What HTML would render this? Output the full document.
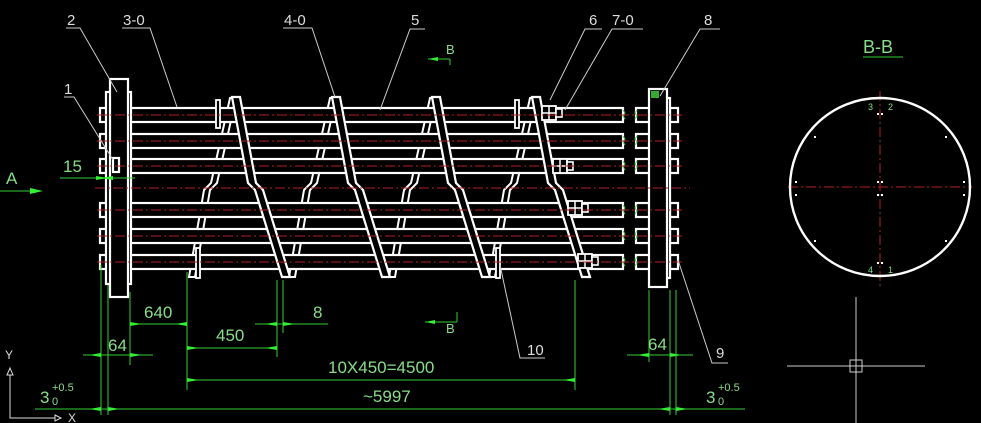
<!DOCTYPE html>
<html><head><meta charset="utf-8"><style>
html,body{margin:0;padding:0;background:#000;}
svg{display:block;}
text{font-family:"Liberation Sans",sans-serif;}
</style></head><body>
<svg width="981" height="423" viewBox="0 0 981 423" xmlns="http://www.w3.org/2000/svg">
<rect width="981" height="423" fill="#000"/>
<defs>
<g id="back">
<polygon points="230,98 236,98 217,183 210,190 195,277 189,277 204,190 211,183" fill="none" stroke="#fff" stroke-width="2"/>
</g>
<g id="front">
<polygon points="232,97 240,97 256,183 263,190 290,277 282,277 255,190 248,183" fill="#000" stroke="#fff" stroke-width="2.2"/>
</g>
<g id="nut">
<rect x="-10" y="-7" width="14" height="14" fill="#000" stroke="#fff" stroke-width="1.8"/>
<line x1="-3" y1="-7" x2="-3" y2="7" stroke="#fff" stroke-width="1.5"/>
<line x1="-10" y1="0" x2="4" y2="0" stroke="#fff" stroke-width="1.5"/>
<rect x="4" y="-4" width="6" height="8" fill="#000" stroke="#fff" stroke-width="1.6"/>
</g>
</defs>

<use href="#back"/>
<use href="#back" x="100"/>
<use href="#back" x="200"/>
<use href="#back" x="300"/>

<g fill="#000" stroke="#fff" stroke-width="2.2">
<rect x="130" y="108" width="493" height="14"/>
<rect x="130" y="134" width="493" height="14"/>
<rect x="130" y="159" width="493" height="14"/>
<rect x="130" y="203" width="493" height="14"/>
<rect x="130" y="229" width="493" height="14"/>
<rect x="130" y="255" width="493" height="14"/>
<rect x="636" y="108" width="14" height="14"/>
<rect x="636" y="134" width="14" height="14"/>
<rect x="636" y="159" width="14" height="14"/>
<rect x="636" y="203" width="14" height="14"/>
<rect x="636" y="229" width="14" height="14"/>
<rect x="636" y="255" width="14" height="14"/>
</g>
<g stroke="#5c5" stroke-width="1" fill="none">
<path d="M623,110 l2,3 -2,3 2,3 M637,110 l-2,3 2,3 -2,3"/>
<path d="M623,136 l2,3 -2,3 2,3 M637,136 l-2,3 2,3 -2,3"/>
<path d="M623,161 l2,3 -2,3 2,3 M637,161 l-2,3 2,3 -2,3"/>
<path d="M623,205 l2,3 -2,3 2,3 M637,205 l-2,3 2,3 -2,3"/>
<path d="M623,231 l2,3 -2,3 2,3 M637,231 l-2,3 2,3 -2,3"/>
<path d="M623,257 l2,3 -2,3 2,3 M637,257 l-2,3 2,3 -2,3"/>
</g>

<use href="#front"/>
<use href="#front" x="100"/>
<use href="#front" x="200"/>
<use href="#front" x="300"/>

<g fill="#000" stroke="#fff" stroke-width="1.8">
<rect x="216" y="100" width="4" height="28"/>
<rect x="196" y="248" width="4" height="30"/>
<rect x="515" y="100" width="4" height="28"/>
<rect x="496" y="248" width="4" height="30"/>
</g>

<use href="#nut" x="552" y="113"/>
<use href="#nut" x="563" y="166"/>
<use href="#nut" x="578" y="208"/>
<use href="#nut" x="588" y="261"/>

<g fill="#000" stroke="#fff" stroke-width="2.2">
<rect x="100" y="108" width="8" height="14"/>
<rect x="100" y="134" width="8" height="14"/>
<rect x="100" y="159" width="8" height="14"/>
<rect x="100" y="203" width="8" height="14"/>
<rect x="100" y="229" width="8" height="14"/>
<rect x="100" y="255" width="8" height="14"/>
<rect x="106" y="92" width="25" height="192"/>
<rect x="110" y="79" width="18" height="218"/>
<rect x="113" y="158" width="6" height="14"/>
</g>
<g fill="#000" stroke="#fff" stroke-width="2.2">
<rect x="670" y="108" width="8" height="14"/>
<rect x="670" y="134" width="8" height="14"/>
<rect x="670" y="159" width="8" height="14"/>
<rect x="670" y="203" width="8" height="14"/>
<rect x="670" y="229" width="8" height="14"/>
<rect x="670" y="255" width="8" height="14"/>
<rect x="665" y="98" width="5" height="180"/>
<rect x="649" y="89" width="18" height="198"/>
</g>
<rect x="651" y="91" width="8" height="7" fill="#3a3"/>

<g stroke="#b02020" stroke-width="1" stroke-dasharray="10,3,2,3">
<line x1="97" y1="115" x2="682" y2="115"/>
<line x1="97" y1="141" x2="682" y2="141"/>
<line x1="97" y1="166" x2="682" y2="166"/>
<line x1="95" y1="188" x2="690" y2="188"/>
<line x1="97" y1="210" x2="682" y2="210"/>
<line x1="97" y1="236" x2="682" y2="236"/>
<line x1="97" y1="262" x2="682" y2="262"/>
</g>

<g stroke="#ccc" stroke-width="1" fill="none">
<path d="M66,28 H80 L117,92"/>
<path d="M122,28 H150 L177,107"/>
<path d="M283,28 H312 L335,97"/>
<path d="M425,29 H410 L380,110"/>
<path d="M602,29 H585 L550,100"/>
<path d="M643,29 H612 L565,110"/>
<path d="M720,29 H700 L660,96"/>
<path d="M64,97 H74 L113,160"/>
<path d="M500,265 L520,358 H545"/>
<path d="M678,260 L712,363 H728"/>
</g>
<g fill="#ddd" font-size="15">
<text x="67" y="25">2</text>
<text x="123" y="25">3-0</text>
<text x="284" y="25">4-0</text>
<text x="411" y="25">5</text>
<text x="589" y="25">6</text>
<text x="612" y="25">7-0</text>
<text x="704" y="25">8</text>
<text x="64" y="94">1</text>
<text x="527" y="355">10</text>
<text x="716" y="358">9</text>
</g>

<g stroke="#3c3" stroke-width="1" fill="none">
<line x1="101" y1="265" x2="101" y2="415"/>
<line x1="108" y1="285" x2="108" y2="415"/>
<line x1="130" y1="292" x2="130" y2="365"/>
<line x1="187" y1="272" x2="187" y2="390"/>
<line x1="277" y1="280" x2="277" y2="357"/>
<line x1="283" y1="280" x2="283" y2="333"/>
<line x1="575" y1="280" x2="575" y2="390"/>
<line x1="649" y1="290" x2="649" y2="362"/>
<line x1="670" y1="290" x2="670" y2="415"/>
<line x1="676" y1="290" x2="676" y2="415"/>
<line x1="35" y1="409" x2="745" y2="409"/>
<line x1="187" y1="380" x2="575" y2="380"/>
<line x1="187" y1="348" x2="277" y2="348"/>
<line x1="130" y1="324" x2="187" y2="324"/>
<line x1="255" y1="324" x2="328" y2="324"/>
<line x1="83" y1="355" x2="153" y2="355"/>
<line x1="627" y1="355" x2="693" y2="355"/>
<line x1="60" y1="178" x2="135" y2="178"/>
<line x1="0" y1="191" x2="30" y2="191"/>
<line x1="428" y1="59" x2="450" y2="59"/>
<line x1="450" y1="59" x2="450" y2="65"/>
<line x1="425" y1="322" x2="457" y2="322"/>
<line x1="457" y1="322" x2="457" y2="312"/>
</g>
<g fill="#3e3">
<polygon points="30,188 43,191 30,194"/>
<polygon points="96,176 108,178 96,180"/>
<polygon points="113,176 101,178 113,180"/>
<polygon points="130,322 142,324 130,326"/>
<polygon points="187,322 175,324 187,326"/>
<polygon points="187,346 199,348 187,350"/>
<polygon points="277,346 265,348 277,350"/>
<polygon points="187,378 199,380 187,382"/>
<polygon points="575,378 563,380 575,382"/>
<polygon points="277,322 265,324 277,326"/>
<polygon points="283,322 295,324 283,326"/>
<polygon points="101,353 89,355 101,357"/>
<polygon points="130,353 142,355 130,357"/>
<polygon points="649,353 637,355 649,357"/>
<polygon points="670,353 682,355 670,357"/>
<polygon points="101,407 89,409 101,411"/>
<polygon points="108,407 120,409 108,411"/>
<polygon points="670,407 658,409 670,411"/>
<polygon points="676,407 688,409 676,411"/>
<polygon points="428,57 438,59 428,61" transform="rotate(180 433 59)"/>
<polygon points="425,320 435,322 425,324" transform="rotate(180 430 322)"/>
</g>
<g fill="#8d8" font-size="17">
<text x="6" y="184">A</text>
<text x="63" y="172">15</text>
<text x="144" y="318">640</text>
<text x="216" y="341">450</text>
<text x="313" y="318">8</text>
<text x="108" y="351">64</text>
<text x="648" y="350">64</text>
<text x="328" y="373">10X450=4500</text>
<text x="363" y="402">~5997</text>
<text x="40" y="403">3</text>
<text x="52" y="391" font-size="11">+0.5</text>
<text x="52" y="405" font-size="11">0</text>
<text x="706" y="403">3</text>
<text x="718" y="391" font-size="11">+0.5</text>
<text x="718" y="405" font-size="11">0</text>
<text x="446" y="54" font-size="13">B</text>
<text x="446" y="333" font-size="13">B</text>
</g>

<text x="863" y="53" fill="#8d8" font-size="18">B-B</text>
<line x1="863" y1="57" x2="903" y2="57" stroke="#3c3" stroke-width="1"/>
<g stroke="#b02020" stroke-width="1" stroke-dasharray="10,3,2,3">
<line x1="880" y1="91" x2="880" y2="288"/>
<line x1="788" y1="187" x2="972" y2="187"/>
</g>
<ellipse cx="880" cy="187" rx="90" ry="89" fill="none" stroke="#fff" stroke-width="2.4"/>
<g fill="#fff">
<rect x="877" y="113" width="2" height="2"/><rect x="881" y="113" width="2" height="2"/>
<rect x="877" y="181" width="2" height="2"/><rect x="881" y="181" width="2" height="2"/>
<rect x="877" y="194" width="2" height="2"/><rect x="881" y="194" width="2" height="2"/>
<rect x="877" y="262" width="2" height="2"/><rect x="881" y="262" width="2" height="2"/>
<rect x="814" y="136" width="2" height="2"/><rect x="945" y="136" width="2" height="2"/>
<rect x="814" y="240" width="2" height="2"/><rect x="945" y="240" width="2" height="2"/>
<rect x="795" y="181" width="2" height="2"/><rect x="963" y="181" width="2" height="2"/>
<rect x="795" y="194" width="2" height="2"/><rect x="963" y="194" width="2" height="2"/>
</g>
<g fill="#8d8" font-size="9">
<text x="868" y="110">3</text><text x="888" y="110">2</text>
<text x="868" y="273">4</text><text x="888" y="273">1</text>
</g>

<g stroke="#ccc" stroke-width="1" fill="none">
<line x1="787" y1="366" x2="925" y2="366"/>
<line x1="856" y1="297" x2="856" y2="423"/>
<rect x="850" y="360" width="12" height="12"/>
</g>

<g stroke="#ddd" stroke-width="1" fill="none">
<path d="M10,375 V418 H55"/>
<polygon points="7,375 10,368 13,375"/>
<polygon points="55,415 61,418 55,421"/>
</g>
<text x="5" y="359" fill="#ddd" font-size="12">Y</text>
<text x="68" y="422" fill="#ddd" font-size="12">X</text>
</svg>
</body></html>
